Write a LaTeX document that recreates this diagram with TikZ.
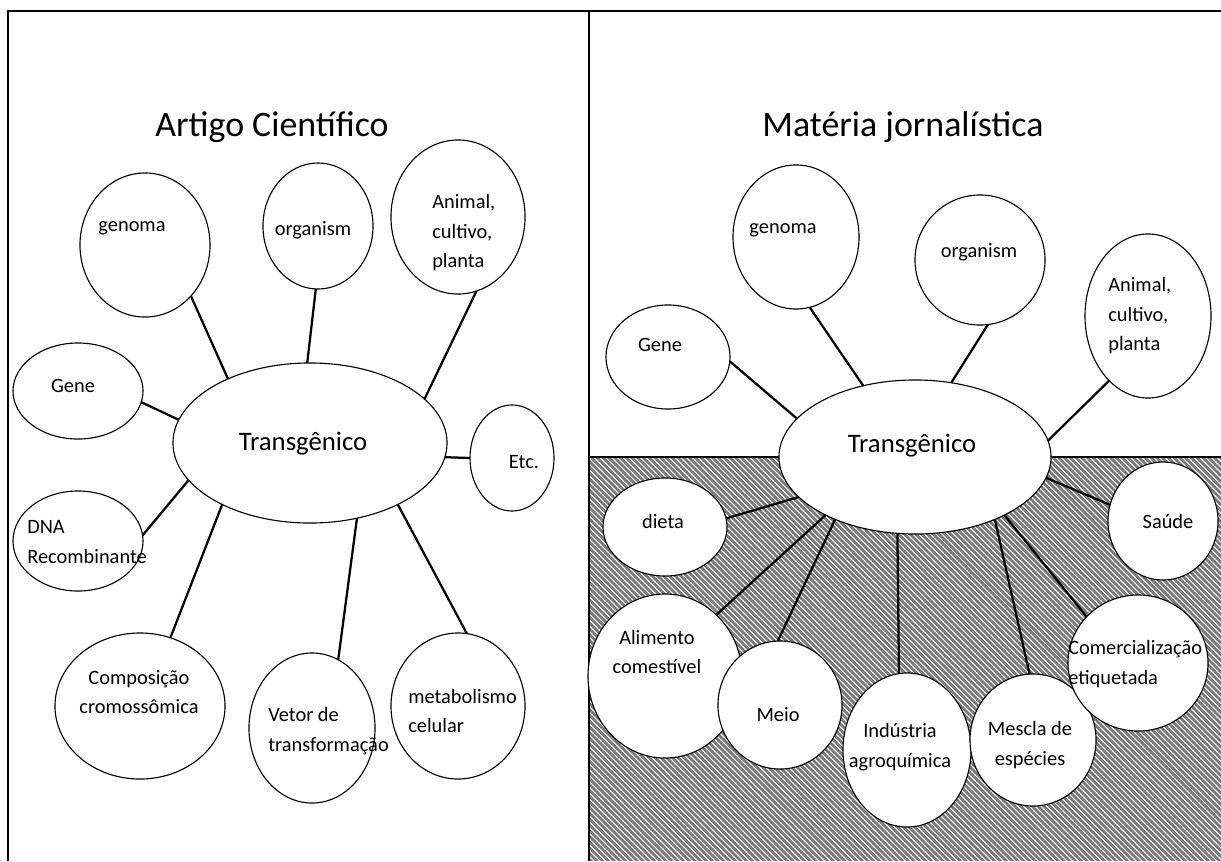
\documentclass[tikz,border=0pt]{standalone}
\usepackage{fontspec}
\setmainfont{Carlito}
\usetikzlibrary{shapes.geometric,patterns.meta}

\begin{document}
\begin{tikzpicture}[x=0.025cm, y=-0.025cm,
    bub/.style={ellipse, draw, fill=white, line width=0.8pt, inner sep=0pt, outer sep=0pt},
    sz/.style 2 args={minimum width=#1*0.05cm, minimum height=#2*0.05cm},
    txt/.style={inner sep=0pt, align=left, font=\fontsize{14.5}{21}\selectfont},
    ctxt/.style={inner sep=0pt, align=center, font=\fontsize{14.5}{21}\selectfont},
    big/.style={inner sep=0pt, font=\fontsize{19}{23}\selectfont},
    head/.style={inner sep=0pt, font=\fontsize{25.5}{30}\selectfont},
    lnk/.style={line width=1.6pt}]
      \useasboundingbox (0,0) rectangle (1221,861);
      \fill[gray!95!black] (589,457) rectangle (1221,861);
      \fill[pattern={Lines[angle=-45,distance=2.9pt,line width=0.75pt]}, pattern color=white] (589,457) rectangle (1221,861);
      \draw[line width=1pt] (8,861) -- (8,11) -- (1221,11);
      \draw[line width=1pt] (589,11) -- (589,861);
      \draw[line width=1pt] (589,457) -- (1221,457);

      \node[head] (titleL) at (272,127) {Artigo Científico};
      \node[head] (titleR) at (903,127) {Matéria jornalística};

      \node[bub, sz={137}{80}] (tL) at (310,443) {};
      \node[big] (tL-t) at (303,444) {Transgênico};
      \node[bub, sz={65}{72}] (genomaL) at (145,245) {};
      \node[txt] (genomaL-t) at (132,228) {genoma};
      \node[bub, sz={55}{63}] (organismL) at (318,226) {};
      \node[txt] (organismL-t) at (313,230) {organism};
      \node[bub, sz={67}{77}] (animalL) at (458,217) {};
      \node[txt, anchor=west] (animalL-t) at (432,233) {Animal,\\cultivo,\\planta};
      \node[bub, sz={65}{48}] (geneL) at (78,391) {};
      \node[txt] (geneL-t) at (73,386) {Gene};
      \node[bub, sz={42}{53}] (etc) at (512,458) {};
      \node[txt] (etc-t) at (524,462) {Etc.};
      \node[bub, sz={65}{50}] (dna) at (78,541) {};
      \node[txt, anchor=west] (dna-t) at (27,542) {DNA\\Recombinante};
      \node[bub, sz={85}{73}] (compos) at (140,706) {};
      \node[ctxt] (compos-t) at (139,692) {Composição\\cromossômica};
      \node[bub, sz={63}{75}] (vetor) at (312,728) {};
      \node[txt, anchor=west] (vetor-t) at (268,731) {Vetor de\\transformação};
      \node[bub, sz={67}{73}] (metab) at (458,706) {};
      \node[txt, anchor=west] (metab-t) at (408,711) {metabolismo\\celular};

      \draw[lnk] (genomaL.-48) -- (tL.142);
      \draw[lnk] (organismL.-92) -- (tL.92);
      \draw[lnk] (animalL.-76) -- (tL.21);
      \draw[lnk] (geneL.-10) -- (tL.170);
      \draw[lnk] (etc.180) -- (tL.-6);
      \draw[lnk] (dna.5) -- (tL.-163);
      \draw[lnk] (compos.66) -- (tL.-145);
      \draw[lnk] (vetor.69) -- (tL.-58);
      \draw[lnk] (metab.83) -- (tL.-35);

      \node[bub, sz={136}{77}] (tR) at (915,457) {};
      \node[big] (tR-t) at (912,446) {Transgênico};
      \node[bub, sz={62}{52}] (geneR) at (668,357) {};
      \node[txt] (geneR-t) at (660,345) {Gene};
      \node[bub, sz={63}{72}] (genomaR) at (796,237) {};
      \node[txt] (genomaR-t) at (783,230) {genoma};
      \node[bub, sz={65}{65}] (organismR) at (980,260) {};
      \node[txt] (organismR-t) at (979,252) {organism};
      \node[bub, sz={63}{82}] (animalR) at (1148,316) {};
      \node[txt, anchor=west] (animalR-t) at (1108,316) {Animal,\\cultivo,\\planta};
      \node[bub, sz={62}{49}] (dieta) at (665,527) {};
      \node[txt] (dieta-t) at (663,521) {dieta};
      \node[bub, sz={55}{59}] (saude) at (1163,521) {};
      \node[txt] (saude-t) at (1168,521) {Saúde};
      \node[bub, sz={77}{82}] (alim) at (665,676) {};
      \node[ctxt] (alim-t) at (657,652) {Alimento\\comestível};
      \node[bub, sz={62}{64}] (meio) at (780,705) {};
      \node[txt] (meio-t) at (778,715) {Meio};
      \node[bub, sz={64}{77}] (indus) at (907,750) {};
      \node[ctxt] (indus-t) at (900,747) {Indústria\\agroquímica};
      \node[bub, sz={63}{66}] (mescla) at (1033,740) {};
      \node[ctxt] (mescla-t) at (1030,745) {Mescla de\\espécies};
      \node[bub, sz={70}{68}] (comerc) at (1138,663) {};
      \node[txt, anchor=west] (comerc-t) at (1068,664) {Comercialização\\etiquetada};

      \draw[lnk] (geneR.-4) -- (tR.162);
      \draw[lnk] (genomaR.-79) -- (tR.126);
      \draw[lnk] (organismR.-83) -- (tR.64);
      \draw[lnk] (animalR.-121) -- (tR.7);
      \draw[lnk] (dieta.8) -- (tR.-161);
      \draw[lnk] (alim.50) -- (tR.-147);
      \draw[lnk] (meio.92) -- (tR.-142);
      \draw[lnk] (indus.96) -- (tR.-103);
      \draw[lnk] (mescla.93) -- (tR.-38);
      \draw[lnk] (comerc.138) -- (tR.-33);
      \draw[lnk] (saude.163) -- (tR.-9);
    \end{tikzpicture}
\end{document}
